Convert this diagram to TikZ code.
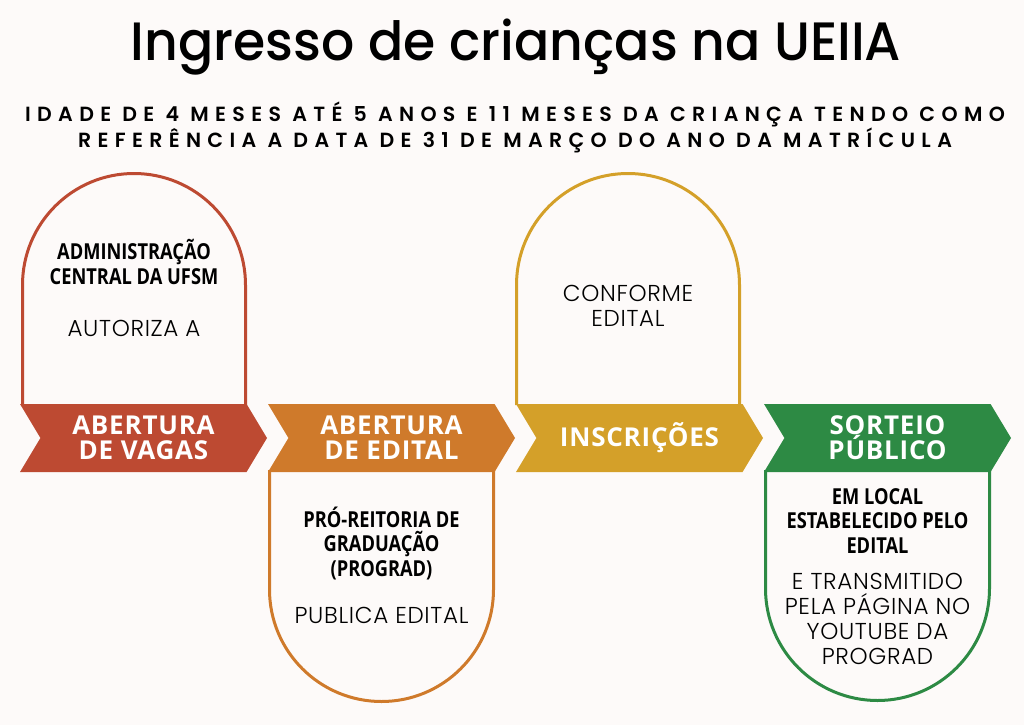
\documentclass[tikz,border=0pt]{standalone}
\usepackage{fontspec}
\setmainfont{Poppins Light}[LetterSpace=3]
\newfontfamily\titlefont{Poppins Medium}[FakeStretch=0.965]
\newfontfamily\subfont{Poppins SemiBold}[LetterSpace=31]
\newfontfamily\bannerfont{Open Sans}[LetterSpace=3]
\newfontfamily\condfont{Open Sans}[FakeStretch=0.83]
\usetikzlibrary{shapes.symbols, positioning}

\definecolor{bgcol}{RGB}{253,250,249}
\definecolor{vagascol}{RGB}{189,74,50}
\definecolor{editalcol}{RGB}{207,122,43}
\definecolor{inscrcol}{RGB}{212,160,41}
\definecolor{sorteiocol}{RGB}{45,138,68}

\tikzset{
  banner/.style={signal, signal from=west, signal to=east, signal pointer angle=118,
    fill=#1, minimum width=247pt, minimum height=68pt, inner sep=0pt, text=white,
    align=center, font=\bannerfont\bfseries\fontsize{26}{25}\selectfont},
  arch/.style={draw=#1, line width=3pt},
  head/.style={align=center, inner sep=0pt, font=\condfont\bfseries\fontsize{22}{24.5}\selectfont},
  body/.style={align=center, inner sep=0pt, font=\fontsize{23}{25}\selectfont},
}

\begin{document}
\begin{tikzpicture}[x=1pt, y=-1pt, on grid, node distance=248pt]
	\fill[bgcol] (0,0) rectangle (1024,725);
	
	\node[font=\titlefont\fontsize{54}{54}\selectfont, anchor=base] (title) at (516,60) {Ingresso de crianças na UEIIA};
	\node[font=\subfont\fontsize{20.5}{22.5}\selectfont, align=center, inner sep=0pt] (idade) at (515,127)
		{IDADE DE 4 MESES ATÉ 5 ANOS E 11 MESES DA CRIANÇA TENDO COMO\\REFERÊNCIA A DATA DE 31 DE MARÇO DO ANO DA MATRÍCULA};
	
	% arcos
	\draw[arch=vagascol] (22.5,405) -- (22.5,285) arc[start angle=180, end angle=0, radius=111.5pt] -- (245.5,405);
	\draw[arch=inscrcol] (516.5,405) -- (516.5,285) arc[start angle=180, end angle=0, radius=111.5pt] -- (739.5,405);
	\draw[arch=editalcol] (269.5,470) -- (269.5,589.5) arc[start angle=180, end angle=360, radius=112pt] -- (493.5,470);
	\draw[arch=sorteiocol] (765.5,470) -- (765.5,588.5) arc[start angle=180, end angle=360, radius=112pt] -- (989.5,470);
	
	% etapas
	\node[banner=vagascol] (vagas) at (143.5,438) {ABERTURA\\DE VAGAS};
	\node[banner=editalcol, right=of vagas] (edital) {ABERTURA\\DE EDITAL};
	\node[banner=inscrcol, right=of edital] (inscr) {INSCRIÇÕES};
	\node[banner=sorteiocol, right=of inscr] (sorteio) {SORTEIO\\PÚBLICO};
	
	% textos
	\node[head] (adm) at (134,262) {ADMINISTRAÇÃO\\CENTRAL DA UFSM};
	\node[body] (autoriza) at (134,328) {AUTORIZA A};
	\node[body] (conforme) at (628,306) {CONFORME\\EDITAL};
	\node[head] (prograd) at (381.5,543) {PRÓ-REITORIA DE\\GRADUAÇÃO\\(PROGRAD)};
	\node[body] (publica) at (381.5,615) {PUBLICA EDITAL};
	\node[head] (local) at (877.5,521) {EM LOCAL\\ESTABELECIDO PELO\\EDITAL};
	\node[body] (transmitido) at (877.5,619) {E TRANSMITIDO\\PELA PÁGINA NO\\YOUTUBE DA\\PROGRAD};
\end{tikzpicture}
\end{document}
